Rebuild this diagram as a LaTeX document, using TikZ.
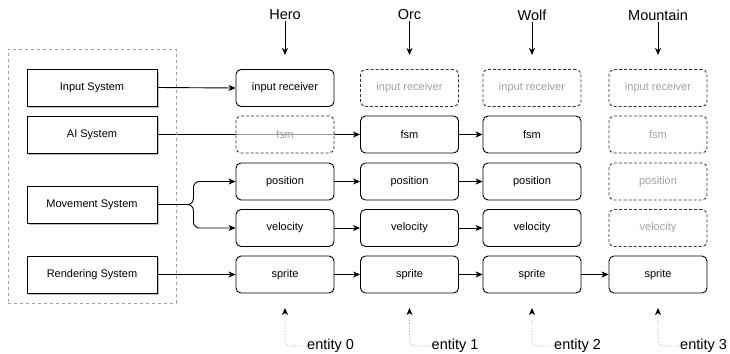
\documentclass[tikz,border=0pt]{standalone}
\usepackage{fontspec}
\setmainfont{Liberation Sans}
\usetikzlibrary{arrows.meta,shadows,backgrounds}
\definecolor{ghost}{HTML}{A0A0A0}
\definecolor{frame}{HTML}{333333}
\begin{document}
\begin{tikzpicture}[x=1pt,y=-1pt,
  sysbox/.style={draw=black,line width=0.9pt,fill=white,minimum width=130pt,minimum height=37pt,
     font=\fontsize{11}{13}\selectfont,inner sep=0pt,
     drop shadow={shadow xshift=2pt,shadow yshift=-2pt,fill=black,opacity=0.25}},
  comp/.style={draw=black,line width=0.9pt,rounded corners=5pt,minimum width=98pt,minimum height=37pt,
     font=\fontsize{11}{13}\selectfont,inner sep=0pt},
  ghostcomp/.style={comp,dashed,draw=frame,text=ghost,dash pattern=on 3pt off 2pt},
  title/.style={font=\fontsize{14.5}{16}\selectfont,inner sep=1pt},
  entlabel/.style={font=\fontsize{14.5}{16}\selectfont,inner sep=0pt,anchor=west},
  arr/.style={line width=0.9pt,-{Stealth[length=7pt,width=6pt,inset=2pt]}},
  entarr/.style={line width=0.8pt,draw=ghost,dotted,rounded corners=5pt,-{Stealth[length=7pt,width=6pt,inset=2pt,color=black,fill=black]}}
]
\useasboundingbox (0,0) rectangle (730,353);

% container
\node[draw=ghost,dashed,line width=0.8pt,minimum width=168pt,minimum height=254pt,inner sep=0pt] (cont) at (92,176) {};

% systems
\node[sysbox] (insys)  at (92,87.5)  {Input System};
\node[sysbox] (aisys)  at (92,134.5) {AI System};
\node[sysbox] (movsys) at (92,204.5) {Movement System};
\node[sysbox] (rensys) at (92,274.5) {Rendering System};

% titles
\node[title] (t0) at (285,15)   {Hero};
\node[title] (t1) at (409.5,15) {Orc};
\node[title] (t2) at (532,15)   {Wolf};
\node[title] (t3) at (658,15)   {Mountain};
\coordinate (a0) at (285,55);
\coordinate (a1) at (409.5,55);
\coordinate (a2) at (532,55);
\coordinate (a3) at (658,55);
\foreach \i in {0,1,2,3} \draw[arr] (t\i) -- (a\i);

% column 0 (Hero)
\node[comp] (in0)  at (285,88)    {input receiver};
\node[ghostcomp,fill=white,fill opacity=0.6,text opacity=1] (fsm0) at (285,134.5) {fsm};
\node[comp] (pos0) at (285,181.5) {position};
\node[comp] (vel0) at (285,228)   {velocity};
\node[comp] (spr0) at (285,274.5) {sprite};

% column 1 (Orc)
\node[ghostcomp] (in1) at (409.5,88) {input receiver};
\node[comp] (fsm1) at (409.5,134.5) {fsm};
\node[comp] (pos1) at (409.5,181.5) {position};
\node[comp] (vel1) at (409.5,228)   {velocity};
\node[comp] (spr1) at (409.5,274.5) {sprite};

% column 2 (Wolf)
\node[ghostcomp] (in2) at (532,88) {input receiver};
\node[comp] (fsm2) at (532,134.5) {fsm};
\node[comp] (pos2) at (532,181.5) {position};
\node[comp] (vel2) at (532,228)   {velocity};
\node[comp] (spr2) at (532,274.5) {sprite};

% column 3 (Mountain)
\node[ghostcomp] (in3)  at (658,88)    {input receiver};
\node[ghostcomp] (fsm3) at (658,134.5) {fsm};
\node[ghostcomp] (pos3) at (658,181.5) {position};
\node[ghostcomp] (vel3) at (658,228)   {velocity};
\node[comp] (spr3) at (658,274.5) {sprite};

% system connectors
\draw[arr] (insys.east) -- (in0.west);
\begin{pgfonlayer}{background}
\draw[arr] (aisys.east) -- (fsm1.west);
\end{pgfonlayer}
\draw[arr,rounded corners=6pt] (movsys.east) -- ++(36,0) |- (pos0.west);
\draw[arr,rounded corners=6pt] (movsys.east) -- ++(36,0) |- (vel0.west);
\draw[arr] (rensys.east) -- (spr0.west);

% chains
\draw[arr] (fsm1) -- (fsm2);
\draw[arr] (pos0) -- (pos1);
\draw[arr] (pos1) -- (pos2);
\draw[arr] (vel0) -- (vel1);
\draw[arr] (vel1) -- (vel2);
\draw[arr] (spr0) -- (spr1);
\draw[arr] (spr1) -- (spr2);
\draw[arr] (spr2) -- (spr3);

% entity labels
\node[entlabel] (e0) at (307,346)   {entity 0};
\node[entlabel] (e1) at (431.5,346) {entity 1};
\node[entlabel] (e2) at (554,346)   {entity 2};
\node[entlabel] (e3) at (680,346)   {entity 3};
\coordinate (b0) at (285,308);
\coordinate (b1) at (409.5,308);
\coordinate (b2) at (532,308);
\coordinate (b3) at (658,308);
\foreach \i in {0,1,2,3} \draw[entarr] (e\i.west) -| (b\i);
\end{tikzpicture}
\end{document}
